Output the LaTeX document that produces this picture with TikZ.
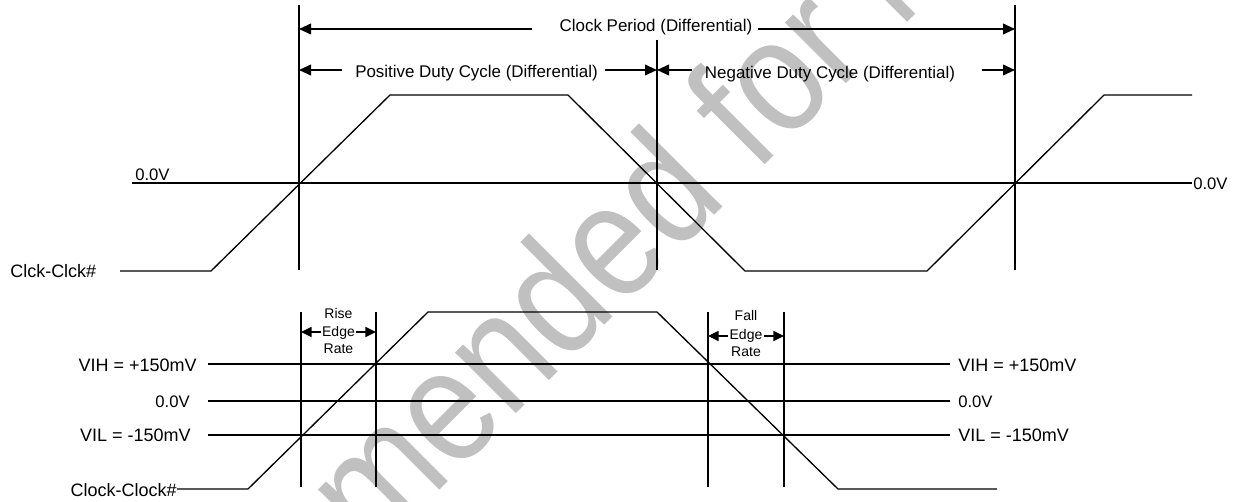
\documentclass[tikz,border=0pt]{standalone}
\usepackage{fontspec}
\setmainfont{Liberation Sans}
\newfontfamily\wmfont[FakeStretch=0.86]{Liberation Sans}
\usetikzlibrary{arrows.meta}
\definecolor{wmgray}{RGB}{192,192,192}
\tikzset{
  sig/.style={line width=1.0pt},
  gridln/.style={line width=1.3pt},
  tipL/.style={gridln,{Triangle[length=9pt,width=8pt]}-},
  tipR/.style={gridln,-{Triangle[length=9pt,width=8pt]}},
  stipL/.style={gridln,{Triangle[length=8pt,width=7.5pt]}-},
  stipR/.style={gridln,-{Triangle[length=8pt,width=7.5pt]}},
  lbl/.style={inner sep=0pt,font=\fontsize{12.7}{14}\selectfont},
  vlbl/.style={inner sep=0pt,font=\fontsize{13.5}{15}\selectfont},
  zlbl/.style={inner sep=0pt,font=\fontsize{12.5}{14}\selectfont},
  slbl/.style={inner sep=0pt,font=\fontsize{10.5}{12}\selectfont,anchor=base},
  wmk/.style={inner sep=0pt,rotate=45,text=wmgray,font=\wmfont\fontsize{122}{126}\selectfont}
}
\begin{document}
\begin{tikzpicture}[x=0.75pt,y=-0.75pt]
\useasboundingbox (0,0) rectangle (1240,501);
% watermark
\begin{scope}
\clip (0,0) rectangle (1240,501);
\node[wmk,anchor=base west] (wmA) at (372,558) {mended for New Designs};
\node[wmk,anchor=base east] (wmB) at (372,558) {Not Recom};
\end{scope}

% ---------- top section ----------
\coordinate (A1) at (299,5);   \coordinate (A2) at (299,270);
\coordinate (B1) at (657,40);  \coordinate (B2) at (657,270);
\coordinate (C1) at (1015,5);  \coordinate (C2) at (1015,270);
\draw[gridln] (A1) -- (A2);
\draw[gridln] (B1) -- (B2);
\draw[gridln] (C1) -- (C2);

\node[lbl,anchor=base] (cp) at (656,31) {Clock Period (Differential)};
\coordinate (cpL) at (532,29); \coordinate (cpR) at (758,29);
\draw[tipL] (A1 |- cpL) -- (cpL);
\draw[tipR] (cpR) -- (C1 |- cpR);

\node[lbl,anchor=base] (pd) at (476.5,77) {Positive Duty Cycle (Differential)};
\coordinate (pdL) at (342,70); \coordinate (pdR) at (605,70);
\draw[tipL] (A1 |- pdL) -- (pdL);
\draw[tipR] (pdR) -- (B1 |- pdR);

\node[lbl,anchor=base] (nd) at (830,78) {Negative Duty Cycle (Differential)};
\coordinate (ndL) at (692,70); \coordinate (ndR) at (982,70);
\draw[tipL] (B1 |- ndL) -- (ndL);
\draw[tipR] (ndR) -- (C1 |- ndR);

% zero line
\coordinate (Z0) at (132,183); \coordinate (Z1) at (1192,183);
\draw[gridln] (Z0) -- (Z1);
\node[zlbl,anchor=base west] (z0l) at (135,180) {0.0V};
\node[zlbl,anchor=base west] (z0r) at (1193,189) {0.0V};

% top waveform
\node[vlbl,anchor=base west] (ck1) at (10,277) {Clck-Clck\#};
\draw[sig] (120,271) -- (211,271) -- (390,95) -- (568,95) -- (745,271)
  -- (927,271) -- (1104,95) -- (1192,95);

% ---------- bottom section ----------
\coordinate (R1) at (301,312); \coordinate (R2) at (376,312);
\coordinate (F1) at (708,312); \coordinate (F2) at (784,312);
\draw[gridln] (R1) -- ++(0,175);
\draw[gridln] (R2) -- ++(0,175);
\draw[gridln] (F1) -- ++(0,175);
\draw[gridln] (F2) -- ++(0,175);

\coordinate (H0) at (208,364); \coordinate (H1) at (950,364);
\coordinate (M0) at (208,401); \coordinate (M1) at (950,401);
\coordinate (L0) at (208,435); \coordinate (L1) at (950,435);
\draw[gridln] (H0) -- (H1);
\draw[gridln] (M0) -- (M1);
\draw[gridln] (L0) -- (L1);

\node[vlbl,anchor=base east] (vihl) at (197,371) {VIH = +150mV};
\node[zlbl,anchor=base east] (zl)   at (190,407) {0.0V};
\node[vlbl,anchor=base east] (vill) at (191,441) {VIL = -150mV};
\node[vlbl,anchor=base west] (vihr) at (958,371) {VIH = +150mV};
\node[zlbl,anchor=base west] (zr)   at (958,407) {0.0V};
\node[vlbl,anchor=base west] (vilr) at (958,441) {VIL = -150mV};

% rise edge rate
\node[slbl] (r1) at (338.5,318) {Rise};
\node[slbl] (r2) at (338.5,336) {Edge};
\node[slbl] (r3) at (338.5,353) {Rate};
\draw[stipL] (R1 |- 0,332) -- (321,332);
\draw[stipR] (356,332) -- (R2 |- 0,332);

% fall edge rate
\node[slbl] (f1) at (746,320) {Fall};
\node[slbl] (f2) at (746,339) {Edge};
\node[slbl] (f3) at (746,356) {Rate};
\draw[stipL] (F1 |- 0,336) -- (728,336);
\draw[stipR] (764,336) -- (F2 |- 0,336);

% bottom waveform
\node[vlbl,anchor=base east] (ck2) at (177,496) {Clock-Clock\#};
\draw[sig] (ck2.base east |- 0,489) -- (248,489) -- (428,312) -- (657,312)
  -- (838,489) -- (997,489);
\end{tikzpicture}
\end{document}
